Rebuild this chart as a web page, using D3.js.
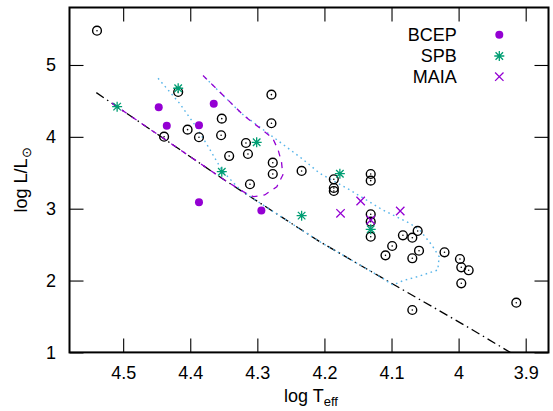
<!DOCTYPE html>
<html><head><meta charset="utf-8">
<script src="https://cdn.jsdelivr.net/npm/d3@7"></script>
<style>body{margin:0;background:#fff}</style>
</head><body>
<svg id="c" width="553" height="411"></svg>
<script>
// ---- data ----
const xTicks = [4.5, 4.4, 4.3, 4.2, 4.1, 4.0, 3.9];
const yTicks = [1, 2, 3, 4, 5];

// stars with solar-like symbol (⊙)
const starX = [4.539,4.418,4.439,4.404,4.387,4.353,4.354,4.342,4.279,4.279,4.317,4.314,4.277,4.277,4.234,4.311,4.186,4.186,4.186,4.131,4.131,4.131,4.131,4.131,4.083,4.099,4.109,4.061,4.069,4.059,4.069,4.021,3.998,3.996,3.985,3.996,4.069,3.914];
const starY = [5.477,4.624,4.002,4.100,3.994,4.253,4.022,3.733,4.587,4.189,3.914,3.761,3.640,3.483,3.525,3.340,3.409,3.288,3.246,3.483,3.390,2.922,2.819,2.610,2.630,2.481,2.351,2.690,2.596,2.415,2.310,2.393,2.300,2.184,2.143,1.962,1.590,1.692];

const bcepX = [4.447, 4.365, 4.435, 4.387, 4.387, 4.294];
const bcepY = [4.411, 4.461, 4.155, 4.161, 3.089, 2.975];

const spbX = [4.509, 4.418, 4.353, 4.301, 4.177, 4.234, 4.131];
const spbY = [4.420, 4.676, 3.515, 3.924, 3.487, 2.903, 2.713];

const maiaX = [4.146, 4.176, 4.087, 4.131];
const maiaY = [3.107, 2.936, 2.968, 2.843];

// ZAMS line
const zamsX = [4.540, 4.349, 4.299, 4.207, 4.117, 3.979, 3.923];
const zamsY = [4.615, 3.399, 3.097, 2.541, 2.054, 1.312, 1.000];

// BCEP instability strip boundary
const bcepStripX = [4.517, 4.349, 4.321, 4.306, 4.289, 4.271, 4.262, 4.264, 4.269, 4.277, 4.321, 4.381];
const bcepStripY = [4.469, 3.399, 3.237, 3.167, 3.191, 3.306, 3.469, 3.650, 3.817, 3.980, 4.304, 4.853];

// SPB instability strip boundary
const spbStripX = [4.448, 4.416, 4.393, 4.373, 4.353, 4.344, 4.326, 4.299, 4.207, 4.117, 4.098, 4.083, 4.058, 4.031, 4.029, 4.040, 4.058, 4.073, 4.113, 4.162, 4.207, 4.234, 4.274, 4.324, 4.381];
const spbStripY = [4.815, 4.467, 4.165, 3.859, 3.539, 3.445, 3.267, 3.097, 2.541, 2.054, 1.938, 1.998, 2.063, 2.147, 2.332, 2.495, 2.703, 2.797, 2.982, 3.260, 3.493, 3.701, 3.980, 4.328, 4.853];

const legendLabels = ["BCEP", "SPB", "MAIA"];

// ---- drawing ----
const FONT = "'Liberation Sans', Arial, Helvetica, sans-serif";
const PURPLE = "#9400d3", GREEN = "#009e73", BLUE = "#56b4e9";
const L = 69.5, R = 548.5, T = 7.5, B = 352.4;

const svg = d3.select("#c");
const x = d3.scaleLinear().domain([4.58, 3.866]).range([L, R]);
const y = d3.scaleLinear().domain([1, 5.8]).range([B, T]);

const clipId = "plotclip";
svg.append("defs").append("clipPath").attr("id", clipId)
  .append("rect").attr("x", L).attr("y", T).attr("width", R - L).attr("height", B - T);

const fmt = d => (Math.round(d * 10) / 10).toString();

// axes
const gx = svg.append("g").attr("transform", `translate(0,${B})`)
  .call(d3.axisBottom(x).tickValues(xTicks).tickSize(-14).tickPadding(14).tickFormat(fmt));
const gxt = svg.append("g").attr("transform", `translate(0,${T})`)
  .call(d3.axisTop(x).tickValues(xTicks).tickSize(-14).tickFormat(""));
const gy = svg.append("g").attr("transform", `translate(${L},0)`)
  .call(d3.axisLeft(y).tickValues(yTicks).tickSize(-14).tickPadding(13.5).tickFormat(d3.format("d")));
const gyr = svg.append("g").attr("transform", `translate(${R},0)`)
  .call(d3.axisRight(y).tickValues(yTicks).tickSize(-14).tickFormat(""));
[gx, gxt, gy, gyr].forEach(g => {
  g.select(".domain").remove();
  g.selectAll("line").attr("stroke", "#000").attr("stroke-width", 1.1);
  g.selectAll("text").attr("font-family", FONT).attr("font-size", 18).attr("fill", "#000");
});

const plot = svg.append("g").attr("clip-path", `url(#${clipId})`);
const line = d3.line().x(d => x(d[0])).y(d => y(d[1]));

// ZAMS
plot.append("path").datum(zamsX.map((v, i) => [v, zamsY[i]]))
  .attr("d", line).attr("fill", "none").attr("stroke", "#000").attr("stroke-width", 1.3)
  .attr("stroke-dasharray", "9,4,1.5,4");
// SPB strip
plot.append("path").datum(spbStripX.map((v, i) => [v, spbStripY[i]]))
  .attr("d", line).attr("fill", "none").attr("stroke", BLUE).attr("stroke-width", 1.4)
  .attr("stroke-dasharray", "1.6,3.6");
// BCEP strip
plot.append("path").datum(bcepStripX.map((v, i) => [v, bcepStripY[i]]))
  .attr("d", line).attr("fill", "none").attr("stroke", PURPLE).attr("stroke-width", 1.3)
  .attr("stroke-dasharray", "6,6");

// ⊙ stars
const sun = plot.append("g");
starX.forEach((v, i) => {
  const cx = x(v), cy = y(starY[i]);
  sun.append("circle").attr("cx", cx).attr("cy", cy).attr("r", 4.4)
    .attr("fill", "none").attr("stroke", "#000").attr("stroke-width", 1.4);
  sun.append("circle").attr("cx", cx).attr("cy", cy).attr("r", 0.8).attr("fill", "#000");
});

function starSym(g, cx, cy, s, color) {
  const d = `M${cx - s},${cy}L${cx + s},${cy}M${cx},${cy - s}L${cx},${cy + s}` +
    `M${cx - s * 0.75},${cy - s * 0.75}L${cx + s * 0.75},${cy + s * 0.75}M${cx - s * 0.75},${cy + s * 0.75}L${cx + s * 0.75},${cy - s * 0.75}`;
  g.append("path").attr("d", d).attr("stroke", color).attr("stroke-width", 1.3).attr("fill", "none");
}
function crossSym(g, cx, cy, s, color) {
  const d = `M${cx - s},${cy - s}L${cx + s},${cy + s}M${cx - s},${cy + s}L${cx + s},${cy - s}`;
  g.append("path").attr("d", d).attr("stroke", color).attr("stroke-width", 1.3).attr("fill", "none");
}

const gb = plot.append("g");
bcepX.forEach((v, i) => gb.append("circle").attr("cx", x(v)).attr("cy", y(bcepY[i])).attr("r", 4).attr("fill", PURPLE));
const gs = plot.append("g");
spbX.forEach((v, i) => starSym(gs, x(v), y(spbY[i]), 5, GREEN));
const gm = plot.append("g");
maiaX.forEach((v, i) => crossSym(gm, x(v), y(maiaY[i]), 4.2, PURPLE));

// legend
const lg = svg.append("g");
const legY = [34.7, 56, 76.7];
legendLabels.forEach((t, i) => {
  lg.append("text").attr("x", 456.7).attr("y", legY[i] + 6.3).attr("text-anchor", "end")
    .attr("font-family", FONT).attr("font-size", 18).text(t);
});
lg.append("circle").attr("cx", 499.3).attr("cy", legY[0]).attr("r", 4).attr("fill", PURPLE);
starSym(lg, 499.3, legY[1], 5, GREEN);
crossSym(lg, 499.3, legY[2], 4.2, PURPLE);

// frame
svg.append("rect").attr("x", L).attr("y", T).attr("width", R - L).attr("height", B - T)
  .attr("fill", "none").attr("stroke", "#000").attr("stroke-width", 2);

// axis titles
const xt = svg.append("text").attr("x", 311).attr("y", 402).attr("text-anchor", "middle")
  .attr("font-family", FONT).attr("font-size", 18);
xt.append("tspan").text("log T");
xt.append("tspan").attr("dy", 4).attr("font-size", 13).text("eff");

const yt = svg.append("text").attr("transform", "translate(27,180) rotate(-90)")
  .attr("text-anchor", "middle").attr("font-family", FONT).attr("font-size", 18);
yt.append("tspan").text("log L/L");
yt.append("tspan").attr("dy", 4).attr("font-size", 13).text("⊙");
</script>
</body></html>
